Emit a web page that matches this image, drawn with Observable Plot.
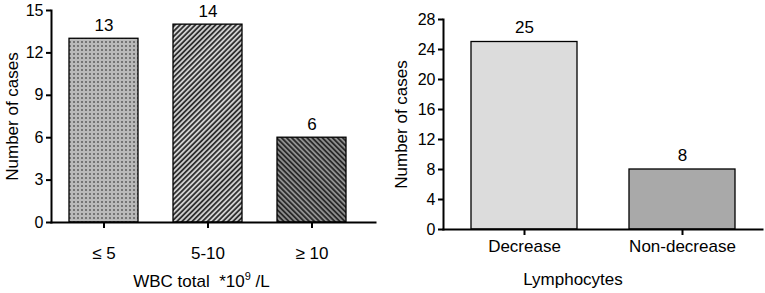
<!DOCTYPE html>
<html>
<head>
<meta charset="utf-8">
<script src="https://cdn.jsdelivr.net/npm/d3@7"></script>
<script src="https://cdn.jsdelivr.net/npm/@observablehq/plot@0.6"></script>
<style>
  html, body { margin: 0; padding: 0; background: #fff; }
  #wrap { display: flex; width: 765px; height: 293px; }
  svg { font-family: "Liberation Sans", Arial, sans-serif; }
</style>
</head>
<body>
<div id="wrap"></div>
<script>
// Left chart data
const wbcCategories = ["≤ 5", "5-10", "≥ 10"];
const wbcValues = [13, 14, 6];
const wbcFills = ["url(#pDots)", "url(#pStripe)", "url(#pBack)"];
const wbcTicks = [0, 3, 6, 9, 12, 15];

// Right chart data
const lymCategories = ["Decrease", "Non-decrease"];
const lymValues = [25, 8];
const lymFills = ["#dcdcdc", "#a9a9a9"];
const lymTicks = [0, 4, 8, 12, 16, 20, 24, 28];

const wbcData = wbcCategories.map((c, i) => ({cat: c, v: wbcValues[i], fill: wbcFills[i]}));
const lymData = lymCategories.map((c, i) => ({cat: c, v: lymValues[i], fill: lymFills[i]}));

const defs = `
<defs>
  <pattern id="pDots" width="4" height="4" patternUnits="userSpaceOnUse">
    <rect width="4" height="4" fill="#b9b9b9"/>
    <rect x="1" y="1" width="2" height="2" fill="#747474"/>
  </pattern>
  <pattern id="pStripe" width="3.6" height="3.6" patternUnits="userSpaceOnUse" patternTransform="rotate(45)">
    <rect width="3.6" height="3.6" fill="#cfcfcf"/>
    <rect width="1.8" height="3.6" fill="#303030"/>
  </pattern>
  <pattern id="pBack" width="3.6" height="3.6" patternUnits="userSpaceOnUse" patternTransform="rotate(-45)">
    <rect width="3.6" height="3.6" fill="#909090"/>
    <rect width="1.8" height="3.6" fill="#2a2a2a"/>
  </pattern>
</defs>`;

const left = Plot.plot({
  width: 380,
  height: 293,
  marginLeft: 51,
  marginRight: 5,
  marginTop: 10,
  marginBottom: 71,
  style: {fontFamily: "Liberation Sans, Arial, sans-serif", color: "#000", background: "#fff"},
  x: {domain: wbcCategories, range: [50.5, 365.5], paddingInner: 0.333, paddingOuter: 0.1667, axis: null},
  y: {domain: [0, 15], axis: null},
  color: {type: "identity"},
  marks: [
    Plot.barY(wbcData, {x: "cat", y: "v", fill: "fill", stroke: "#000", strokeWidth: 1.3}),
    Plot.frame({anchor: "left", stroke: "#000", strokeWidth: 2}),
    Plot.frame({anchor: "bottom", stroke: "#000", strokeWidth: 2}),
    Plot.axisY({ticks: wbcTicks, tickSize: 5, tickPadding: 3, fontSize: 16, label: null, strokeWidth: 2}),
    Plot.axisX({tickSize: 6, tickPadding: 18, fontSize: 17, label: null, strokeWidth: 2}),
    Plot.text(wbcData, {x: "cat", y: "v", text: d => String(d.v), fontSize: 17, lineAnchor: "bottom", dy: -8}),
    Plot.text(["Number of cases"], {frameAnchor: "left", textAnchor: "middle", rotate: -90, dx: -39, fontSize: 17}),
    Plot.text(["WBC total"], {frameAnchor: "bottom", fontSize: 17, dx: -12, dy: 64, text: d => d})
  ]
});

const right = Plot.plot({
  width: 385,
  height: 293,
  marginLeft: 63,
  marginRight: 3,
  marginTop: 19,
  marginBottom: 64,
  style: {fontFamily: "Liberation Sans, Arial, sans-serif", color: "#000", background: "#fff"},
  x: {domain: lymCategories, range: [65, 381], paddingInner: 0.332, paddingOuter: 0.166, axis: null},
  y: {domain: [0, 28], axis: null},
  color: {type: "identity"},
  marks: [
    Plot.barY(lymData, {x: "cat", y: "v", fill: "fill", stroke: "#000", strokeWidth: 1.3}),
    Plot.frame({anchor: "left", stroke: "#000", strokeWidth: 2}),
    Plot.frame({anchor: "bottom", stroke: "#000", strokeWidth: 2}),
    Plot.axisY({ticks: lymTicks, tickSize: 5, tickPadding: 3, fontSize: 16, label: null, strokeWidth: 2}),
    Plot.axisX({tickSize: 6, tickPadding: 4, fontSize: 17, label: null, strokeWidth: 2}),
    Plot.text(lymData, {x: "cat", y: "v", text: d => String(d.v), fontSize: 17, lineAnchor: "bottom", dy: -9}),
    Plot.text(["Number of cases"], {frameAnchor: "left", textAnchor: "middle", rotate: -90, dx: -42, fontSize: 17}),
    Plot.text(["Lymphocytes"], {frameAnchor: "bottom", fontSize: 17, dx: -30, dy: 55})
  ]
});

left.insertAdjacentHTML("afterbegin", defs);

// Superscript in the left axis title
const titles = left.querySelectorAll("text");
titles.forEach(t => {
  if (t.textContent === "WBC total") {
    t.textContent = "";
    const ns = "http://www.w3.org/2000/svg";
    const a = document.createElementNS(ns, "tspan"); a.textContent = "WBC total  *10"; a.setAttribute("style", "white-space:pre");
    const b = document.createElementNS(ns, "tspan"); b.textContent = "9"; b.setAttribute("font-size", "11"); b.setAttribute("dy", "-7");
    const c = document.createElementNS(ns, "tspan"); c.textContent = " /L"; c.setAttribute("dy", "7"); c.setAttribute("style", "white-space:pre");
    t.append(a, b, c);
    t.setAttribute("xml:space", "preserve");
    t.style.whiteSpace = "pre";
  }
});

document.getElementById("wrap").append(left, right);
</script>
</body>
</html>
